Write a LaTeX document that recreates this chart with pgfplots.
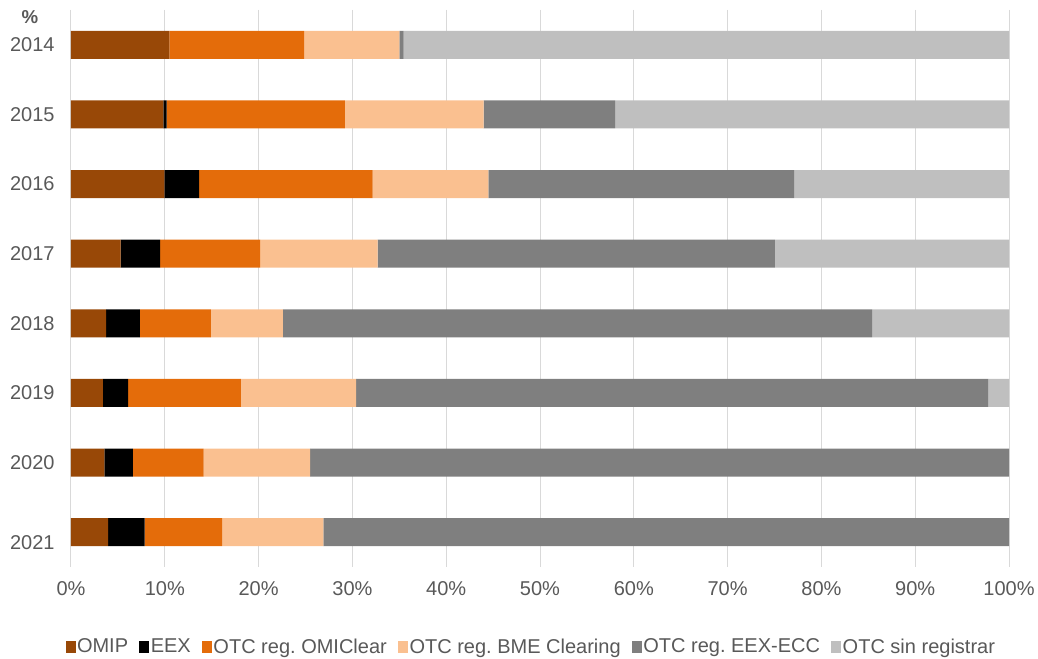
\documentclass[border=0pt]{standalone}
\usepackage{pgfplots}
\pgfplotsset{compat=1.18}
\usepackage{fontspec}
\setmainfont{Liberation Sans}
\frenchspacing
\definecolor{omip}{HTML}{984807}
\definecolor{eex}{HTML}{000000}
\definecolor{omiclear}{HTML}{E46C0A}
\definecolor{bme}{HTML}{FAC090}
\definecolor{ecc}{HTML}{7F7F7F}
\definecolor{sinreg}{HTML}{BFBFBF}
\definecolor{gridgray}{HTML}{D9D9D9}
\definecolor{txt}{HTML}{595959}
\begin{document}
\begin{tikzpicture}[x=1pt,y=1pt]
\begin{axis}[
  at={(0,0)}, anchor=south west,
  scale only axis, width=703.5pt, height=417.75pt,
  xbar stacked, bar width=21pt,
  xmin=0, xmax=100, ymin=-0.5, ymax=7.5, y dir=reverse,
  ytick={0,1,2,3,4,5,6,7},
  yticklabels={2014,2015,2016,2017,2018,2019,2020,{\raisebox{-7.5pt}[\height][\depth]{2021}}},
  xtick={0,10,...,100},
  xticklabel={\pgfmathprintnumber{\tick}\%},
  xmajorgrids, grid style={draw=gridgray, line width=0.75pt},
  axis line style={draw=none}, major tick length=0pt,
  tick label style={font=\fontsize{15}{17}\selectfont, text=txt},
  /pgf/number format/assume math mode=true,
  xticklabel style={anchor=north, yshift=-7.5pt},
  yticklabel style={anchor=east, xshift=-8.8pt},
  legend style={at={(0.4904,-0.1436)}, anchor=center, draw=none,
    legend columns=-1, font=\fontsize{15}{17}\selectfont, text=txt,
    /tikz/every even column/.append style={column sep=7.5pt},
    /tikz/every odd column/.append style={column sep=0pt},
    nodes={inner sep=1pt}},
  legend image code/.code={\fill[#1] (0pt,-4.5pt) rectangle (7.5pt,4.5pt);},
  every axis plot/.append style={draw=none},
]
\addplot[fill=omip] coordinates {(10.5,0) (9.85,1) (9.95,2) (5.3,3) (3.75,4) (3.4,5) (3.55,6) (3.95,7)};
\addplot[fill=eex] coordinates {(0,0) (0.35,1) (3.7,2) (4.2,3) (3.6,4) (2.7,5) (3.05,6) (3.9,7)};
\addplot[fill=omiclear] coordinates {(14.35,0) (19.0,1) (18.5,2) (10.65,3) (7.55,4) (12.0,5) (7.55,6) (8.25,7)};
\addplot[fill=bme] coordinates {(10.15,0) (14.8,1) (12.35,2) (12.55,3) (7.7,4) (12.3,5) (11.35,6) (10.8,7)};
\addplot[fill=ecc] coordinates {(0.45,0) (14.0,1) (32.6,2) (42.35,3) (62.8,4) (67.4,5) (74.5,6) (73.1,7)};
\addplot[fill=sinreg] coordinates {(64.55,0) (42.0,1) (22.9,2) (24.95,3) (14.6,4) (2.2,5) (0,6) (0,7)};
\legend{OMIP, EEX, OTC reg. OMIClear, OTC reg. BME Clearing, OTC reg. EEX-ECC, OTC sin registrar}
\end{axis}
\node[font=\fontsize{14}{16}\selectfont\bfseries, text=txt] at (-30.75,412.5) {\%};
\pgfresetboundingbox
\path[use as bounding box] (-53.25,-69) rectangle (725.25,425.25);
\end{tikzpicture}
\end{document}
